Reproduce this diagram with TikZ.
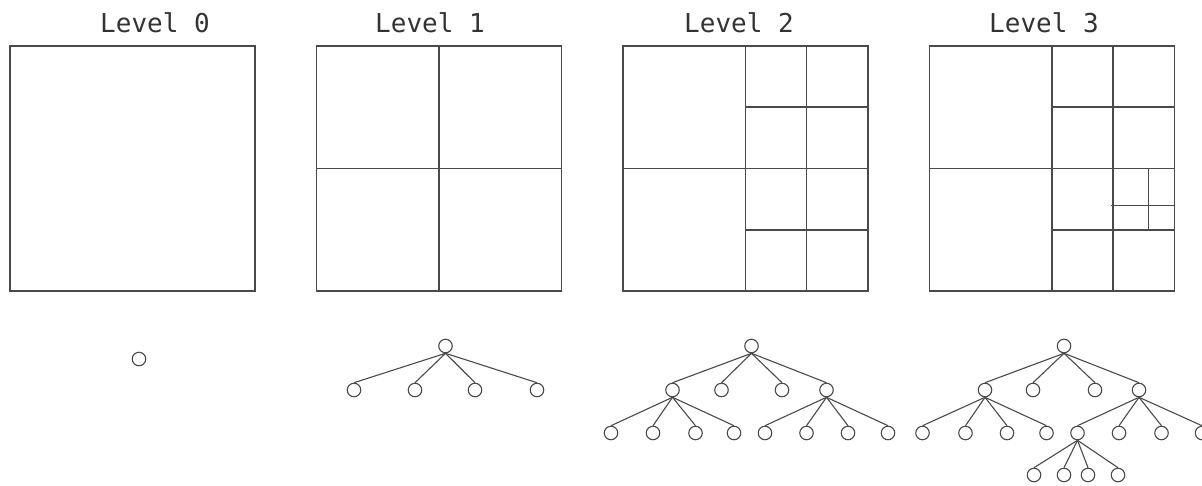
\documentclass[tikz,border=0pt]{standalone}
\usepackage{fontspec}
\setmonofont{DejaVu Sans Mono}
\usetikzlibrary{positioning}
\definecolor{ln}{HTML}{4A4A4A}
\definecolor{txt}{HTML}{333333}

\begin{document}
\begin{tikzpicture}[
  x=1pt, y=-1pt,
  ttl/.style={font=\ttfamily\fontsize{26}{30}\selectfont, text=txt, anchor=base, inner sep=0pt},
  cell/.style={draw=ln, line width=1.3pt},
  leaf/.style={circle, draw=ln, line width=1.1pt, minimum size=13.5pt, inner sep=0pt},
  edge/.style={draw=ln, line width=1.1pt},
]
\useasboundingbox (0,0) rectangle (1202,485);

% titles
\node[ttl] (T0) at (155,32) {Level 0};
\node[ttl] (T1) at (430,32) {Level 1};
\node[ttl] (T2) at (739,32) {Level 2};
\node[ttl] (T3) at (1044,32) {Level 3};

% squares
\foreach \x in {10,316.5,623,929.5}
  \draw[cell] (\x,46) rectangle ++(245,245);

% level 1 split
\draw[cell] (439,46) -- (439,291);
\draw[cell] (316.5,168.5) -- (561.5,168.5);

% level 2 split
\draw[cell] (745.5,46) -- (745.5,291);
\draw[cell] (623,168.5) -- (868,168.5);
\draw[cell] (806.5,46) -- (806.5,291);
\draw[cell] (745.5,107) -- (868,107);
\draw[cell] (745.5,230) -- (868,230);

% level 3 split
\draw[cell] (1052,46) -- (1052,291);
\draw[cell] (929.5,168.5) -- (1174.5,168.5);
\draw[cell] (1113,46) -- (1113,291);
\draw[cell] (1052,107) -- (1174.5,107);
\draw[cell] (1052,230) -- (1174.5,230);
\draw[cell] (1148.5,168.5) -- (1148.5,230);
\draw[cell] (1111,205.5) -- (1174.5,205.5);

% level 0 tree
\node[leaf] (r0) at (139,359) {};

% level 1 tree
\node[leaf] (r1) at (445.5,346) {};
\node[leaf] (a1) at (354,390) {};
\node[leaf] (b1) at (415,390) {};
\node[leaf] (c1) at (475,390) {};
\node[leaf] (d1) at (537,390) {};
\foreach \k in {a1,b1,c1,d1}
  \draw[edge] (r1.south) -- (\k.north);

% level 2 tree
\node[leaf] (r2) at (751.5,346) {};
\node[leaf] (a2) at (672.5,390) {};
\node[leaf] (b2) at (721.5,390) {};
\node[leaf] (c2) at (782,390) {};
\node[leaf] (d2) at (826.5,390) {};
\foreach \k in {a2,b2,c2,d2}
  \draw[edge] (r2.south) -- (\k.north);
\node[leaf] (aa2) at (611,433) {};
\node[leaf] (ab2) at (653,433) {};
\node[leaf] (ac2) at (695.5,433) {};
\node[leaf] (ad2) at (734,433) {};
\node[leaf] (da2) at (765,433) {};
\node[leaf] (db2) at (806.5,433) {};
\node[leaf] (dc2) at (848,433) {};
\node[leaf] (dd2) at (888,433) {};
\foreach \k in {aa2,ab2,ac2,ad2}
  \draw[edge] (a2.south) -- (\k.north);
\foreach \k in {da2,db2,dc2,dd2}
  \draw[edge] (d2.south) -- (\k.north);

% level 3 tree
\node[leaf] (r3) at (1064,346) {};
\node[leaf] (a3) at (985,390) {};
\node[leaf] (b3) at (1033,390) {};
\node[leaf] (c3) at (1095,390) {};
\node[leaf] (d3) at (1139,390) {};
\foreach \k in {a3,b3,c3,d3}
  \draw[edge] (r3.south) -- (\k.north);
\node[leaf] (aa3) at (922.5,433) {};
\node[leaf] (ab3) at (965.5,433) {};
\node[leaf] (ac3) at (1007,433) {};
\node[leaf] (ad3) at (1046.5,433) {};
\node[leaf] (da3) at (1077.5,433) {};
\node[leaf] (db3) at (1119,433) {};
\node[leaf] (dc3) at (1161.5,433) {};
\node[leaf] (dd3) at (1202,433) {};
\foreach \k in {aa3,ab3,ac3,ad3}
  \draw[edge] (a3.south) -- (\k.north);
\foreach \k in {da3,db3,dc3,dd3}
  \draw[edge] (d3.south) -- (\k.north);
\node[leaf] (daa3) at (1034,475) {};
\node[leaf] (dab3) at (1064,475) {};
\node[leaf] (dac3) at (1088,475) {};
\node[leaf] (dad3) at (1118,475) {};
\foreach \k in {daa3,dab3,dac3,dad3}
  \draw[edge] (da3.south) -- (\k.north);

\end{tikzpicture}
\end{document}
